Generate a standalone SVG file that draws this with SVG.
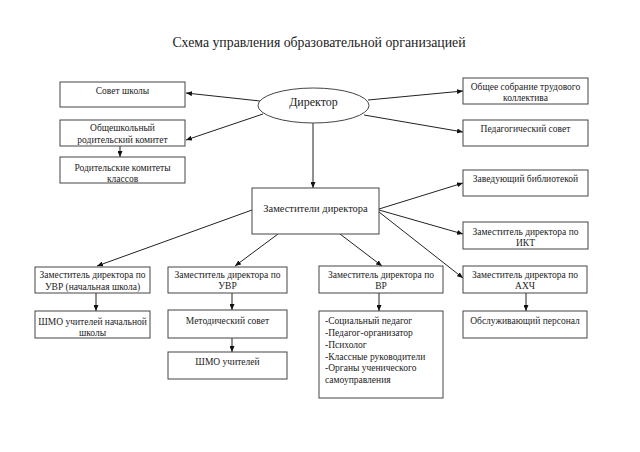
<svg xmlns="http://www.w3.org/2000/svg" width="640" height="452" viewBox="0 0 640 452">
<defs>
<marker id="ah" viewBox="0 0 6 5" refX="6" refY="2.5" markerWidth="6" markerHeight="5" markerUnits="userSpaceOnUse" orient="auto">
<path d="M0,0 L6,2.5 L0,5 Z" fill="#111"/>
</marker>
</defs>
<style>
.box{fill:#fff;stroke:#444;stroke-width:1}
.t{font-family:"Liberation Serif","Times New Roman",serif;font-size:9.5px;fill:#222;text-anchor:middle}
.l{text-anchor:start}
.c line{stroke:#222;stroke-width:1;marker-end:url(#ah)}
</style>
<rect width="640" height="452" fill="#fff"/>
<text x="319" y="47" class="t" style="font-size:13.8px">Схема управления образовательной организацией</text>

<g class="c" id="connectors">
<line x1="260" y1="101" x2="186" y2="93"/>
<line x1="263" y1="114" x2="186" y2="140"/>
<line x1="368" y1="100" x2="463" y2="91"/>
<line x1="364" y1="115" x2="463" y2="132"/>
<line x1="313" y1="123" x2="313" y2="188"/>
<line x1="120" y1="146" x2="120" y2="157"/>
<line x1="379" y1="209" x2="463" y2="183"/>
<line x1="379" y1="210" x2="463" y2="234"/>
<line x1="379" y1="212" x2="463" y2="278"/>
<line x1="252" y1="210" x2="97" y2="266"/>
<line x1="278" y1="234" x2="235" y2="266"/>
<line x1="340" y1="234" x2="382" y2="266"/>
<line x1="96" y1="293" x2="96" y2="311"/>
<line x1="232" y1="293" x2="232" y2="310"/>
<line x1="232" y1="338" x2="232" y2="352"/>
<line x1="379" y1="293" x2="379" y2="311"/>
<line x1="526" y1="293" x2="526" y2="311"/>
</g>

<g id="director">
<ellipse cx="313.5" cy="105.5" rx="55.5" ry="17.5" class="box"/>
<text x="313.5" y="106" class="t" style="font-size:12px">Директор</text>
</g>
<g id="sovet">
<rect x="60" y="82" width="125" height="25" class="box"/>
<text x="122.5" y="94" class="t">Совет школы</text>
</g>
<g id="obshroditel">
<rect x="60" y="120" width="125" height="26" class="box"/>
<text x="122.5" y="131" class="t">Общешкольный</text>
<text x="122.5" y="143" class="t">родительский комитет</text>
</g>
<g id="roditkom">
<rect x="60" y="157" width="125" height="26" class="box"/>
<text x="122.5" y="171" class="t">Родительские комитеты</text>
<text x="122.5" y="182" class="t">классов</text>
</g>
<g id="obshee">
<rect x="463" y="78" width="125" height="26" class="box"/>
<text x="525.5" y="90" class="t">Общее собрание трудового</text>
<text x="525.5" y="101" class="t">коллектива</text>
</g>
<g id="pedsovet">
<rect x="463" y="120" width="125" height="26" class="box"/>
<text x="525.5" y="132" class="t">Педагогический совет</text>
</g>
<g id="zamestiteli">
<rect x="252" y="188" width="127" height="46" class="box"/>
<text x="315.5" y="212" class="t" style="font-size:10.5px">Заместители директора</text>
</g>
<g id="biblio">
<rect x="463" y="170" width="125" height="26" class="box"/>
<text x="525.5" y="182" class="t">Заведующий библиотекой</text>
</g>
<g id="ikt">
<rect x="463" y="222" width="125" height="27" class="box"/>
<text x="525.5" y="235" class="t">Заместитель директора по</text>
<text x="525.5" y="246" class="t">ИКТ</text>
</g>
<g id="ahch">
<rect x="463" y="266" width="124" height="27" class="box"/>
<text x="525" y="278" class="t">Заместитель директора по</text>
<text x="525" y="289" class="t">АХЧ</text>
</g>
<g id="obsl">
<rect x="463" y="311" width="124" height="27" class="box"/>
<text x="525" y="324" class="t">Обслуживающий персонал</text>
</g>
<g id="vr">
<rect x="319" y="266" width="124" height="27" class="box"/>
<text x="381" y="278" class="t">Заместитель директора по</text>
<text x="381" y="289" class="t">ВР</text>
</g>
<g id="vrlist">
<rect x="319" y="311" width="124" height="87" class="box"/>
<text x="325" y="324" class="t l">-Социальный педагог</text>
<text x="325" y="336" class="t l">-Педагог-организатор</text>
<text x="325" y="347.5" class="t l">-Психолог</text>
<text x="325" y="359.5" class="t l">-Классные руководители</text>
<text x="325" y="371" class="t l">-Органы ученического</text>
<text x="325" y="383" class="t l">самоуправления</text>
</g>
<g id="uvr1">
<rect x="35" y="267" width="115" height="26" class="box"/>
<text x="92.5" y="278" class="t">Заместитель директора по</text>
<text x="92.5" y="290" class="t">УВР (начальная школа)</text>
</g>
<g id="shmo1">
<rect x="35" y="311" width="115" height="27" class="box"/>
<text x="92.5" y="325" class="t">ШМО учителей начальной</text>
<text x="92.5" y="336" class="t">школы</text>
</g>
<g id="uvr2">
<rect x="168" y="267" width="119" height="26" class="box"/>
<text x="227.5" y="278" class="t">Заместитель директора по</text>
<text x="227.5" y="289" class="t">УВР</text>
</g>
<g id="metod">
<rect x="168" y="310" width="119" height="28" class="box"/>
<text x="227.5" y="324" class="t">Методический совет</text>
</g>
<g id="shmo2">
<rect x="168" y="352" width="119" height="27" class="box"/>
<text x="227.5" y="365" class="t">ШМО учителей</text>
</g>
</svg>
